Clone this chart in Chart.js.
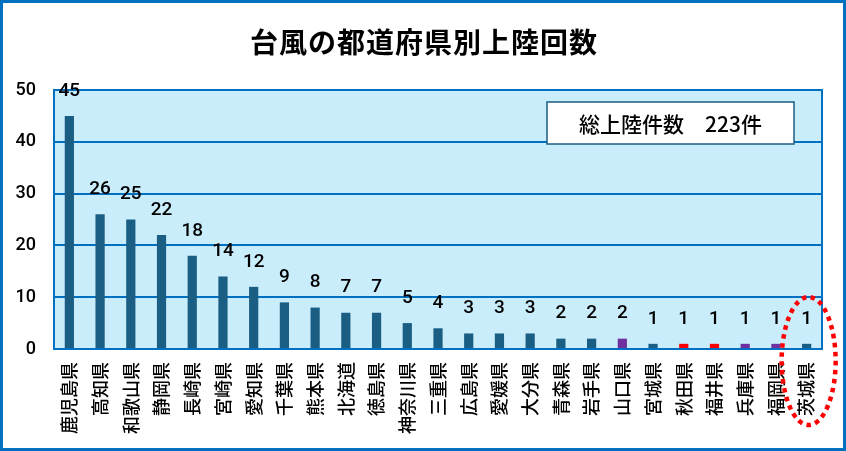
<!DOCTYPE html>
<html>
<head>
<meta charset="utf-8">
<script src="https://cdn.jsdelivr.net/npm/chart.js@4.4.1/dist/chart.umd.min.js"></script>
<style>
  html, body { margin: 0; padding: 0; background: #fff; }
  #wrap { width: 846px; height: 451px; }
</style>
</head>
<body>
<div id="wrap"><canvas id="myChart" width="846" height="451"></canvas></div>
<script>
// データ
const prefectures = ['鹿児島県', '高知県', '和歌山県', '静岡県', '長崎県', '宮崎県', '愛知県', '千葉県', '熊本県',
  '北海道', '徳島県', '神奈川県', '三重県', '広島県', '愛媛県', '大分県', '青森県', '岩手県', '山口県',
  '宮城県', '秋田県', '福井県', '兵庫県', '福岡県', '茨城県'];
const landings = [45, 26, 25, 22, 18, 14, 12, 9, 8, 7, 7, 5, 4, 3, 3, 3, 2, 2, 2, 1, 1, 1, 1, 1, 1];
const barColors = ['#1B5E83', '#1B5E83', '#1B5E83', '#1B5E83', '#1B5E83', '#1B5E83', '#1B5E83', '#1B5E83', '#1B5E83',
  '#1B5E83', '#1B5E83', '#1B5E83', '#1B5E83', '#1B5E83', '#1B5E83', '#1B5E83', '#1B5E83', '#1B5E83', '#7030A0',
  '#1B5E83', '#FF0000', '#FF0000', '#7030A0', '#7030A0', '#1B5E83'];
const yTicks = [0, 10, 20, 30, 40, 50];
const chartTitle = '台風の都道府県別上陸回数';
const totalText = '総上陸件数　223件';

const FONT = '"Noto Sans CJK JP", "Noto Sans", sans-serif';
const NUMFONT = 'Roboto, "Liberation Sans", sans-serif';
const BLUE = '#0070C0';

const decoPlugin = {
  id: 'deco',
  beforeDraw(chart) {
    const ctx = chart.ctx, a = chart.chartArea;
    ctx.save();
    ctx.fillStyle = '#fff';
    ctx.fillRect(0, 0, chart.width, chart.height);
    ctx.fillStyle = '#CAEDFB';
    ctx.fillRect(a.left, a.top, a.right - a.left, a.bottom - a.top);
    ctx.restore();
  },
  afterDraw(chart) {
    const ctx = chart.ctx, a = chart.chartArea;
    const x = chart.scales.x, y = chart.scales.y;
    ctx.save();
    // plot border
    ctx.strokeStyle = BLUE;
    ctx.lineWidth = 2;
    ctx.strokeRect(a.left, a.top, a.right - a.left, a.bottom - a.top);
    // outer frame
    ctx.lineWidth = 3;
    ctx.strokeRect(1.5, 1.5, chart.width - 3, chart.height - 3);
    // title
    ctx.fillStyle = '#000';
    ctx.font = 'bold 28px ' + FONT;
    ctx.letterSpacing = '1px';
    ctx.textAlign = 'center';
    ctx.textBaseline = 'middle';
    ctx.fillText(chartTitle, 424, 42);
    ctx.letterSpacing = '0px';
    // value labels
    ctx.font = '500 19px ' + NUMFONT;
    landings.forEach((v, i) => {
      const px = x.getPixelForValue(i);
      const py = y.getPixelForValue(v);
      ctx.fillText(String(v), px, py - 25);
    });
    // total box
    ctx.fillStyle = '#fff';
    ctx.fillRect(547, 102, 247, 42);
    ctx.strokeStyle = '#1B5E83';
    ctx.lineWidth = 1.5;
    ctx.strokeRect(547, 102, 247, 42);
    ctx.fillStyle = '#000';
    ctx.font = '500 21px ' + FONT;
    ctx.fillText(totalText, 670.5, 124);
    // red dotted ellipse around the last prefecture
    const lx = x.getPixelForValue(landings.length - 1);
    ctx.strokeStyle = '#FF0000';
    ctx.lineWidth = 4.5;
    ctx.setLineDash([4.5, 4.5]);
    ctx.beginPath();
    ctx.ellipse(lx + 2, 361, 27, 64, 0, 0, Math.PI * 2);
    ctx.stroke();
    ctx.restore();
  }
};

const ctx = document.getElementById('myChart');
const myChart = new Chart(ctx, {
  type: 'bar',
  data: {
    labels: prefectures,
    datasets: [{
      data: landings,
      backgroundColor: barColors,
      barPercentage: 0.3,
      categoryPercentage: 1
    }]
  },
  options: {
    responsive: false,
    animation: false,
    devicePixelRatio: 1,
    layout: { padding: { top: 90, right: 24, left: 0, bottom: 0 } },
    plugins: { legend: { display: false }, tooltip: { enabled: false } },
    scales: {
      x: {
        grid: { display: false, drawTicks: false },
        border: { display: false },
        ticks: {
          color: '#000',
          font: { family: FONT, size: 18, weight: '500' },
          autoSkip: false,
          minRotation: 90,
          maxRotation: 90,
          padding: 13
        },
        afterFit(scale) { scale.height = 102; }
      },
      y: {
        min: 0,
        max: 50,
        afterBuildTicks(scale) { scale.ticks = yTicks.map(v => ({ value: v })); },
        grid: { color: BLUE, lineWidth: 2, drawTicks: false },
        border: { display: false },
        ticks: {
          color: '#000',
          font: { family: NUMFONT, size: 18, weight: '500' },
          padding: 18
        },
        afterFit(scale) { scale.width = 54; }
      }
    }
  },
  plugins: [decoPlugin]
});
</script>
</body>
</html>
